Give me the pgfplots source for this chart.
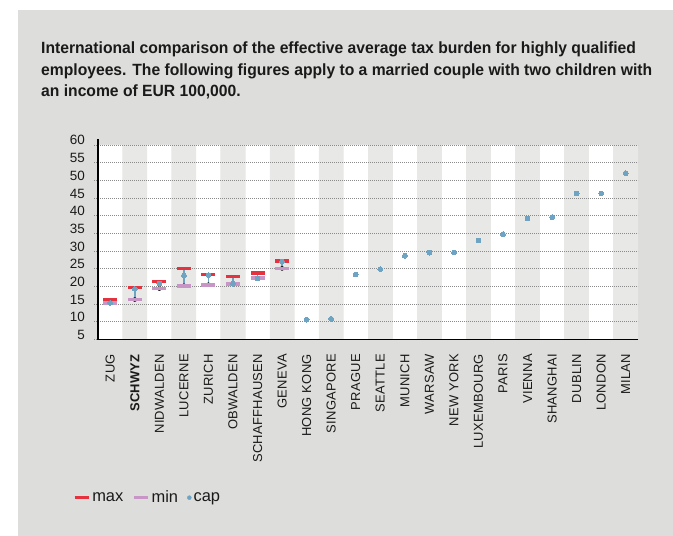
\documentclass[border=0pt]{standalone}
\usepackage{pgfplots}
\pgfplotsset{compat=1.18}
\usepackage{pgfplotstable}
\usepackage{fontspec}
\setmainfont{Liberation Sans}
\newfontfamily\titlefont{Liberation Sans}[FakeStretch=0.965]
\newfontfamily\labelfont{Liberation Sans}[LetterSpace=2]

\definecolor{panel}{HTML}{DDDDDB}
\definecolor{stripe}{HTML}{E8E8E6}
\definecolor{maxred}{HTML}{E6323E}
\definecolor{minpink}{HTML}{C896C6}
\definecolor{capblue}{HTML}{6FA3C2}
\definecolor{gridgray}{HTML}{8A8A8A}
\definecolor{txt}{HTML}{1A1A1A}

% swiss cantons: range max/min plus cap
\pgfplotstableread{
i max  min  cap
0 16.3 15.3 15.35
1 19.7 16.3 19.3
2 21.4 19.4 20.8
3 25.1 20.2 23.1
4 23.4 20.5 23.2
5 22.8 20.8 20.8
6 23.9 22.3 22.3
7 27.3 25.1 27.0
}\swiss

% other cities: cap only
\pgfplotstableread{
i  cap
8  10.6
9  10.85
10 23.4
11 24.9
12 28.7
13 29.55
14 29.6
15 33.0
16 34.8
17 39.2
18 39.6
19 46.3
20 46.3
21 52.0
}\others

\pgfplotsset{
  frame/.style={
    at={(98bp,-339.5bp)}, anchor=south west,
    scale only axis, width=540bp, height=200.2bp,
    xmin=-0.5, xmax=21.5, ymin=5, ymax=61.6,
  },
}

\begin{document}
\begin{tikzpicture}
\fill[white] (0,0) rectangle (673bp,-536bp);
\fill[panel] (18bp,-10bp) rectangle (673bp,-536bp);

% background stripes
\begin{axis}[frame, hide axis]
\addplot[ybar, bar width=1, fill=white, draw=none] coordinates {
(0,60) (2,60) (4,60) (6,60) (8,60) (10,60) (12,60) (14,60) (16,60) (18,60) (20,60)
};
\addplot[ybar, bar width=1, fill=stripe, draw=none] coordinates {
(1,60) (3,60) (5,60) (7,60) (9,60) (11,60) (13,60) (15,60) (17,60) (19,60) (21,60)
};
\end{axis}

\begin{axis}[frame,
  axis x line=bottom, axis y line=left,
  axis line style={-, black, line width=1.2bp},
  xtick={0,...,21},
  xticklabels={ZUG,\textbf{SCHWYZ},NIDWALDEN,LUCERNE,ZURICH,OBWALDEN,SCHAFFHAUSEN,GENEVA,HONG KONG,SINGAPORE,PRAGUE,SEATTLE,MUNICH,WARSAW,NEW YORK,LUXEMBOURG,PARIS,VIENNA,SHANGHAI,DUBLIN,LONDON,MILAN},
  xtick style={draw=none},
  xticklabel style={rotate=90, anchor=east, inner sep=0pt, font=\labelfont\fontsize{13}{13}\selectfont, text=txt},
  xticklabel shift=10.5bp,
  ytick={5,10,...,60},
  ymajorgrids,
  grid style={gridgray, line width=0.7bp, dash pattern=on 0.7bp off 1.3bp},
  tick align=outside, major tick length=4bp,
  ytick style={gridgray, line width=0.7bp, dash pattern=on 0.7bp off 1.3bp},
  yticklabel style={anchor=base east, inner sep=0pt, font=\fontsize{13.5}{13.5}\selectfont, text=txt},
  yticklabel shift=9bp,
  /pgf/number format/assume math mode=true,
  legend columns=-1,
  legend style={at={(axis description cs:-0.0463,-0.790)}, anchor=west,
    draw=none, fill=none, inner sep=0pt, outer sep=0pt,
    font=\fontsize{16.5}{18}\selectfont,
    nodes={inner xsep=2bp, inner ysep=0pt, text=txt},
    /tikz/every even column/.append style={column sep=7bp}},
]
\addplot[forget plot, only marks, mark=none,
  error bars/.cd, y dir=plus, y explicit, error mark=none,
  error bar style={capblue, line width=1.4bp}]
  table[x=i, y=min, y error expr=\thisrow{max}-\thisrow{min}] {\swiss};

\addplot[only marks, mark=-, mark size=7bp, color=maxred,
  mark options={draw=maxred, line width=3.8bp},
  legend image code/.code={\draw[maxred, line width=3.3bp] (0bp,0bp) -- (14bp,0bp);}]
  table[x=i, y=max] {\swiss};

\addplot[only marks, mark=-, mark size=7bp, color=minpink,
  mark options={draw=minpink, line width=3.8bp},
  legend image code/.code={\draw[minpink, line width=3.3bp] (0bp,0bp) -- (14bp,0bp);}]
  table[x=i, y=min] {\swiss};

\addplot[only marks, mark=*, mark size=2.4bp, color=capblue,
  mark options={fill=capblue, draw=capblue, line width=0pt},
  legend image code/.code={\fill[capblue] (2bp,0bp) circle (2bp);}]
  table[x=i, y=cap] {\swiss};

\addplot[forget plot, only marks, mark=*, mark size=2.4bp, color=capblue,
  mark options={fill=capblue, draw=capblue, line width=0pt}]
  table[x=i, y=cap] {\others};

\legend{max, min, cap}
\end{axis}

\begin{scope}[every node/.style={anchor=base west, inner sep=0pt, text=txt, font=\titlefont\bfseries\fontsize{16.3}{20}\selectfont}]
\node at (41bp,-53.3bp) {International comparison of the effective average tax burden for highly qualified};
\node at (41bp,-75.5bp) {employees. The following figures apply to a married couple with two children with};
\node at (41bp,-96bp) {an income of EUR 100,000.};
\end{scope}
\end{tikzpicture}
\end{document}
